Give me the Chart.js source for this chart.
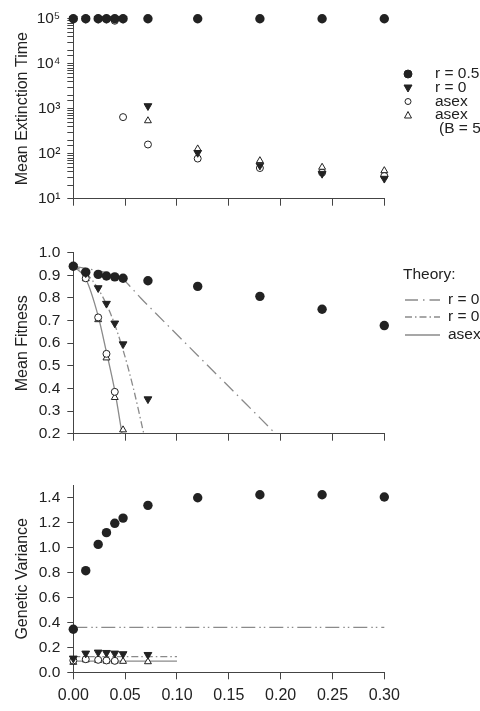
<!DOCTYPE html>
<html>
<head>
<title>Extinction time, fitness and variance</title>
<script src="https://cdn.jsdelivr.net/npm/chart.js"></script>
<style>
  body { margin: 0; background: #fff; width: 480px; height: 711px; overflow: hidden; position: relative; }
  canvas { position: absolute; left: 0; }
</style>
</head>
<body>
<canvas id="timeChart" width="480" height="215" style="top:0px"></canvas>
<canvas id="fitChart" width="480" height="230" style="top:220px"></canvas>
<canvas id="varChart" width="480" height="261" style="top:450px"></canvas>

<script>
// x values (mutation effect) of the simulation runs
const xSex = [0, 0.012, 0.024, 0.032, 0.04, 0.048, 0.072, 0.12, 0.18, 0.24, 0.30];
const xR0 = [0, 0.012, 0.024, 0.032, 0.04, 0.048, 0.072, 0.12, 0.18, 0.24, 0.30];
const xAsex = [0, 0.012, 0.024, 0.032, 0.04, 0.048, 0.072, 0.12, 0.18, 0.24, 0.30];
const xAsexB5 = [0, 0.012, 0.024, 0.032, 0.04, 0.048, 0.072, 0.12, 0.18, 0.24, 0.30];

// mean extinction time
const timeR05 = [1e5, 1e5, 1e5, 1e5, 1e5, 1e5, 1e5, 1e5, 1e5, 1e5, 1e5];
const timeR0 = [1e5, 1e5, 1e5, 1e5, 1e5, 1e5, 1150, 105, 55, 36, 28];
const timeAsex = [1e5, 1e5, 1e5, 1e5, 9e4, 650, 160, 78, 48, 38, 32];
const timeAsexB5 = [1e5, 1e5, 1e5, 1e5, 1e5, 1e5, 540, 128, 70, 50, 42];

// mean fitness
const fitR05 = [0.94, 0.914, 0.904, 0.897, 0.893, 0.887, 0.876, 0.851, 0.807, 0.75, 0.678];
const fitX_R0 = [0, 0.012, 0.024, 0.032, 0.04, 0.048, 0.072];
const fitR0 = [0.94, 0.91, 0.844, 0.775, 0.688, 0.596, 0.353];
const fitX_Asex = [0, 0.012, 0.024, 0.032, 0.04];
const fitAsex = [0.94, 0.887, 0.714, 0.553, 0.385];
const fitX_AsexB5 = [0, 0.012, 0.024, 0.032, 0.04, 0.048];
const fitAsexB5 = [0.94, 0.885, 0.704, 0.535, 0.36, 0.217];

// theory curves for fitness
const thX_R05 = [0, 0.024, 0.04, 0.048, 0.056, 0.065, 0.08, 0.0935, 0.12, 0.14, 0.16, 0.18, 0.195];
const thR05 = [0.94, 0.92, 0.9, 0.883, 0.845, 0.8, 0.73, 0.668, 0.546, 0.454, 0.362, 0.27, 0.2];
const thX_R0 = [0, 0.012, 0.024, 0.036, 0.048, 0.058, 0.068];
const thR0 = [0.94, 0.91, 0.84, 0.73, 0.57, 0.4, 0.2];
const thX_Asex = [0, 0.012, 0.024, 0.032, 0.04, 0.047];
const thAsex = [0.94, 0.885, 0.72, 0.56, 0.39, 0.2];

// genetic variance
const varR05 = [0.345, 0.815, 1.026, 1.12, 1.195, 1.237, 1.339, 1.40, 1.424, 1.424, 1.406];
const varX_R0 = [0, 0.012, 0.024, 0.032, 0.04, 0.048, 0.072];
const varR0 = [0.112, 0.152, 0.16, 0.157, 0.152, 0.147, 0.141];
const varX_Asex = [0, 0.012, 0.024, 0.032, 0.04];
const varAsex = [0.095, 0.105, 0.1, 0.095, 0.092];
const varX_AsexB5 = [0, 0.012, 0.024, 0.032, 0.04, 0.048, 0.072];
const varAsexB5 = [0.08, 0.1, 0.095, 0.09, 0.09, 0.088, 0.085];
const varTicks = [0, 0.2, 0.4, 0.6, 0.8, 1.0, 1.2, 1.4];

// theory lines for variance (flat)
const vthX_R05 = [0, 0.30];
const vthR05 = [0.36, 0.36];
const vthX_R0 = [0, 0.10];
const vthR0 = [0.125, 0.125];
const vthX_Asex = [0, 0.10];
const vthAsex = [0.09, 0.09];

const FONT = "'Liberation Sans', Arial, sans-serif";
const INK = '#222';
const LINE = '#8a8a8a';
const supers = ['⁰', '¹', '²', '³', '⁴', '⁵', '⁶'];

function pts(xs, ys) {
  return ys.map((y, i) => ({ x: xs[i], y: y }));
}

function dots(data) {
  return { data, pointStyle: 'circle', pointRadius: 4.7, backgroundColor: INK, borderColor: INK, pointBorderWidth: 0, clip: false };
}
function downTri(data) {
  return { data, pointStyle: 'triangle', rotation: 180, pointRadius: 4.5, backgroundColor: INK, borderColor: INK, pointBorderWidth: 1, clip: false };
}
function ring(data) {
  return { data, pointStyle: 'circle', pointRadius: 3.5, backgroundColor: '#fff', borderColor: INK, pointBorderWidth: 1, clip: false };
}
function openTri(data) {
  return { data, pointStyle: 'triangle', pointRadius: 4, backgroundColor: '#fff', borderColor: INK, pointBorderWidth: 1, clip: false };
}
function theory(data, dash) {
  return { data, showLine: true, pointRadius: 0, borderColor: LINE, borderWidth: 1.3, borderDash: dash,
           cubicInterpolationMode: 'monotone', fill: false, clip: false };
}

const dashR05 = [13, 5, 1.5, 5];
const dashR0 = [7, 3, 1.5, 3];
const dashVarR05 = [14, 4, 1.5, 3, 1.5, 4];

function drawMarker(ctx, kind, x, y) {
  ctx.save();
  ctx.lineWidth = 1;
  ctx.strokeStyle = INK;
  ctx.fillStyle = (kind === 'ring' || kind === 'tri') ? '#fff' : INK;
  ctx.beginPath();
  if (kind === 'dot' || kind === 'ring') {
    ctx.arc(x, y, kind === 'dot' ? 4 : 3, 0, Math.PI * 2);
  } else if (kind === 'down') {
    ctx.moveTo(x - 4, y - 3); ctx.lineTo(x + 4, y - 3); ctx.lineTo(x, y + 4); ctx.closePath();
  } else {
    ctx.moveTo(x - 3.5, y + 3); ctx.lineTo(x + 3.5, y + 3); ctx.lineTo(x, y - 3.5); ctx.closePath();
  }
  ctx.fill();
  ctx.stroke();
  ctx.restore();
}

// small legend drawn in the right margin (y in canvas coordinates)
const sideLegend = {
  id: 'sideLegend',
  afterDraw(chart, args, opts) {
    const ctx = chart.ctx;
    ctx.save();
    ctx.font = opts.font;
    ctx.fillStyle = INK;
    ctx.textBaseline = 'middle';
    (opts.items || []).forEach(it => {
      if (it.marker) drawMarker(ctx, it.marker, opts.markerX, it.y);
      if (it.dash) {
        ctx.save();
        ctx.strokeStyle = LINE;
        ctx.lineWidth = 1.3;
        ctx.setLineDash(it.dash);
        ctx.beginPath();
        ctx.moveTo(opts.lineX0, it.y);
        ctx.lineTo(opts.lineX1, it.y);
        ctx.stroke();
        ctx.restore();
      }
      ctx.fillText(it.text, it.x !== undefined ? it.x : opts.textX, it.y);
    });
    ctx.restore();
  }
};

function xAxis(height, showLabels) {
  return {
    type: 'linear', min: 0, max: 0.3,
    ticks: { stepSize: 0.05, padding: 7, color: INK, font: { size: 16, family: FONT }, autoSkip: false, maxRotation: 0,
             callback: v => showLabels ? v.toFixed(2) : '' },
    grid: { drawOnChartArea: false, tickLength: 7, color: '#444' },
    border: { color: '#444', width: 1 },
    afterFit: s => { s.height = height; }
  };
}

function yTitle(text) {
  return { display: true, text, color: INK, font: { size: 16, family: FONT }, padding: { top: 12.5, bottom: 0 } };
}

const yGrid = { drawOnChartArea: false, tickLength: 6, color: '#444' };
const yBorder = { color: '#444', width: 1 };

const common = {
  responsive: false,
  animation: false,
  events: [],
  plugins: { legend: { display: false }, tooltip: { enabled: false } }
};

// top panel: mean extinction time
new Chart(document.getElementById('timeChart'), {
  type: 'scatter',
  data: {
    datasets: [
      dots(pts(xSex, timeR05)),
      downTri(pts(xR0, timeR0)),
      openTri(pts(xAsexB5, timeAsexB5)),
      ring(pts(xAsex, timeAsex))
    ]
  },
  options: Object.assign({}, common, {
    layout: { padding: { top: 18.7, right: 95.7, bottom: 0, left: 0 } },
    scales: {
      x: xAxis(12, false),
      y: {
        type: 'logarithmic', min: 10, max: 1e5,
        title: yTitle('Mean Extinction Time'),
        ticks: { color: INK, font: { size: 15.5, family: FONT }, padding: 7, autoSkip: false,
                 callback: v => {
                   const l = Math.log10(v);
                   return Math.abs(l - Math.round(l)) < 1e-6 ? '10' + supers[Math.round(l)] : '';
                 } },
        grid: yGrid, border: yBorder,
        afterFit: s => { s.width = 73.3; }
      }
    },
    plugins: Object.assign({}, common.plugins, {
      sideLegend: {
        font: '15.5px ' + FONT, markerX: 408, textX: 435,
        items: [
          { marker: 'dot', text: 'r = 0.5', y: 74 },
          { marker: 'down', text: 'r = 0', y: 88 },
          { marker: 'ring', text: 'asex', y: 101.5 },
          { marker: 'tri', text: 'asex', y: 115 },
          { text: '(B = 5)', x: 439, y: 128.5 }
        ]
      }
    })
  }),
  plugins: [sideLegend]
});

// middle panel: mean fitness
new Chart(document.getElementById('fitChart'), {
  type: 'scatter',
  data: {
    datasets: [
      dots(pts(xSex, fitR05)),
      downTri(pts(fitX_R0, fitR0)),
      ring(pts(fitX_Asex, fitAsex)),
      openTri(pts(fitX_AsexB5, fitAsexB5)),
      theory(pts(thX_R05, thR05), dashR05),
      theory(pts(thX_R0, thR0), dashR0),
      theory(pts(thX_Asex, thAsex), [])
    ]
  },
  options: Object.assign({}, common, {
    layout: { padding: { top: 32.7, right: 95.7, bottom: 0, left: 0 } },
    scales: {
      x: xAxis(11, false),
      y: {
        min: 0.2, max: 1.0,
        title: yTitle('Mean Fitness'),
        ticks: { stepSize: 0.1, color: INK, font: { size: 15.5, family: FONT }, padding: 7, autoSkip: false,
                 callback: v => v.toFixed(1) },
        grid: yGrid, border: yBorder,
        afterFit: s => { s.width = 73.3; }
      }
    },
    plugins: Object.assign({}, common.plugins, {
      sideLegend: {
        font: '15.5px ' + FONT, lineX0: 405, lineX1: 440, textX: 448,
        items: [
          { text: 'Theory:', x: 403, y: 55 },
          { dash: dashR05, text: 'r = 0.5', y: 80 },
          { dash: dashR0, text: 'r = 0', y: 97 },
          { dash: [], text: 'asex', y: 115 }
        ]
      }
    })
  }),
  plugins: [sideLegend]
});

// bottom panel: genetic variance
new Chart(document.getElementById('varChart'), {
  type: 'scatter',
  data: {
    datasets: [
      dots(pts(xSex, varR05)),
      downTri(pts(varX_R0, varR0)),
      ring(pts(varX_Asex, varAsex)),
      openTri(pts(varX_AsexB5, varAsexB5)),
      theory(pts(vthX_R05, vthR05), dashVarR05),
      theory(pts(vthX_R0, vthR0), dashR0),
      theory(pts(vthX_Asex, vthAsex), [])
    ]
  },
  options: Object.assign({}, common, {
    layout: { padding: { top: 35.3, right: 95.7, bottom: 0, left: 0 } },
    scales: {
      x: xAxis(38.7, true),
      y: {
        min: 0, max: 1.5,
        title: yTitle('Genetic Variance'),
        ticks: { color: INK, font: { size: 15.5, family: FONT }, padding: 7, autoSkip: false,
                 callback: v => v.toFixed(1) },
        afterBuildTicks: s => { s.ticks = varTicks.map(v => ({ value: v })); },
        grid: yGrid, border: yBorder,
        afterFit: s => { s.width = 73.3; }
      }
    }
  })
});
</script>
</body>
</html>
